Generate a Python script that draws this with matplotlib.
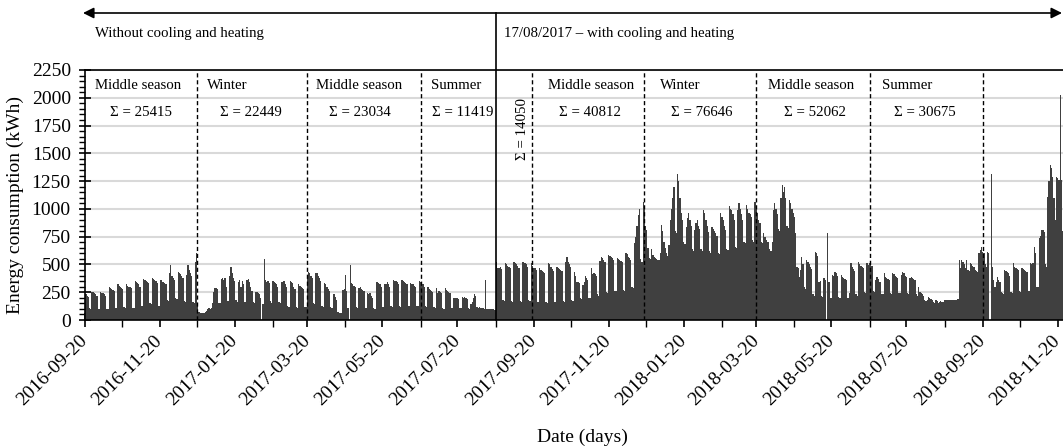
import numpy as np
import pandas as pd
import matplotlib
matplotlib.use('Agg')
import matplotlib.pyplot as plt
import matplotlib.dates as mdates
from matplotlib.ticker import MultipleLocator

plt.rcParams['font.family'] = ['Liberation Serif', 'DejaVu Serif']

# daily energy consumption (kWh), one row per week (Mon..Sun), first Monday 2016-09-19
first_monday = '2016-09-19'

autumn_2016 = [
    [240, 240, 230, 220, 210, 110, 100],
    [250, 250, 240, 230, 220, 100, 100],
    [250, 240, 240, 230, 220, 100, 100],
    [300, 290, 280, 270, 260, 110, 110],
    [320, 310, 300, 290, 280, 120, 110],
    [320, 310, 300, 300, 290, 110, 110],
    [350, 340, 330, 320, 300, 130, 130],
    [370, 360, 350, 340, 330, 150, 140],
    [375, 370, 360, 350, 330, 130, 130],
    [360, 345, 340, 330, 320, 180, 170],
    [420, 495, 400, 380, 360, 200, 190],
    [430, 420, 410, 400, 380, 170, 160],
    [405, 495, 450, 420, 400, 160, 150],
]
winter_2017 = [
    [520, 600, 130, 70, 60, 60, 60],
    [65, 70, 80, 100, 110, 100, 110],
    [150, 250, 290, 290, 280, 150, 150],
    [370, 380, 360, 380, 300, 170, 170],
    [400, 480, 420, 380, 350, 180, 160],
    [340, 360, 300, 350, 320, 160, 160],
    [360, 370, 340, 300, 260, 160, 150],
    [250, 250, 240, 230, 200, 0, 140],
    [550, 360, 340, 350, 330, 170, 150],
    [350, 340, 330, 320, 300, 160, 150],
    [345, 340, 350, 320, 300, 130, 120],
    [350, 340, 330, 300, 280, 120, 110],
    [320, 310, 300, 290, 280, 120, 120],
]
spring_2017 = [
    [380, 435, 420, 400, 380, 150, 140],
    [420, 426, 396, 380, 350, 130, 120],
    [336, 320, 300, 280, 260, 120, 110],
    [234, 230, 210, 180, 75, 60, 60],
    [60, 270, 280, 405, 260, 110, 0],
    [495, 330, 320, 310, 300, 120, 110],
    [290, 294, 280, 270, 260, 110, 110],
    [240, 230, 240, 220, 200, 110, 100],
    [345, 340, 330, 320, 300, 120, 120],
    [320, 324, 340, 320, 300, 130, 120],
    [360, 350, 355, 340, 320, 130, 120],
    [360, 350, 340, 330, 320, 130, 130],
    [330, 320, 320, 310, 300, 130, 130],
]
summer_2017 = [
    [350, 340, 330, 320, 300, 130, 120],
    [294, 280, 270, 260, 250, 120, 110],
    [285, 240, 260, 250, 240, 110, 100],
    [285, 270, 260, 250, 240, 110, 110],
    [200, 195, 200, 195, 190, 110, 110],
    [210, 200, 210, 200, 190, 110, 100],
    [140, 160, 200, 230, 220, 120, 110],
    [120, 110, 110, 105, 100, 360, 100],
    [95, 95, 95, 95, 95, 90, 90],
]
autumn_2017 = [
    [525, 465, 470, 480, 460, 180, 170],
    [516, 500, 490, 480, 470, 170, 160],
    [525, 510, 500, 490, 470, 170, 160],
    [525, 520, 510, 500, 480, 180, 170],
    [510, 490, 470, 465, 450, 160, 160],
    [465, 450, 440, 430, 420, 160, 150],
    [510, 500, 480, 460, 440, 160, 160],
    [480, 470, 460, 450, 440, 170, 160],
    [525, 564, 520, 500, 480, 180, 170],
    [435, 400, 345, 340, 330, 200, 190],
    [315, 340, 400, 380, 360, 200, 200],
    [465, 414, 420, 410, 400, 230, 220],
    [534, 570, 560, 540, 520, 250, 240],
    [585, 580, 570, 560, 540, 260, 260],
    [555, 550, 540, 530, 520, 270, 260],
    [600, 590, 570, 560, 540, 300, 290],
    [690, 750, 850, 945, 1000, 550, 520],
]
winter_2018 = [
    [1065, 1000, 850, 810, 645, 560, 550],
    [636, 585, 570, 560, 550, 540, 540],
    [600, 855, 800, 700, 650, 600, 580],
    [675, 900, 1000, 1095, 1200, 800, 780],
    [1311, 1250, 1095, 960, 900, 700, 680],
    [840, 915, 960, 900, 850, 640, 620],
    [810, 870, 900, 850, 820, 640, 620],
    [990, 960, 900, 850, 795, 620, 600],
    [840, 820, 800, 780, 760, 600, 590],
    [960, 930, 900, 850, 810, 640, 630],
    [1026, 1000, 990, 950, 900, 660, 650],
    [990, 1050, 1000, 950, 900, 700, 690],
    [1035, 1000, 960, 950, 930, 720, 700],
    [1065, 996, 960, 900, 870, 700, 690],
]
spring_2018 = [
    [780, 750, 720, 705, 700, 640, 620],
    [700, 990, 1050, 1000, 950, 820, 800],
    [1100, 1215, 1150, 1200, 1095, 850, 830],
    [1080, 1050, 1000, 960, 930, 780, 480],
    [465, 390, 450, 570, 500, 300, 280],
    [540, 520, 500, 480, 460, 230, 220],
    [615, 600, 580, 345, 350, 220, 210],
    [375, 360, 0, 780, 345, 200, 200],
    [405, 400, 435, 420, 400, 210, 200],
    [405, 390, 380, 370, 360, 200, 200],
    [240, 510, 480, 460, 440, 230, 220],
    [525, 500, 490, 480, 470, 250, 240],
]
summer_2018 = [
    [516, 495, 510, 500, 490, 260, 250],
    [360, 390, 370, 345, 340, 230, 230],
    [420, 390, 380, 370, 360, 240, 230],
    [420, 410, 400, 390, 380, 240, 240],
    [405, 435, 420, 400, 390, 240, 230],
    [375, 390, 380, 370, 360, 230, 220],
    [300, 255, 240, 230, 220, 180, 170],
    [180, 210, 200, 190, 180, 160, 150],
    [180, 170, 150, 160, 170, 160, 160],
    [180, 180, 180, 180, 180, 180, 180],
    [180, 180, 180, 180, 185, 540, 465],
    [540, 520, 500, 465, 540, 450, 440],
    [516, 500, 490, 480, 450, 440, 430],
    [600, 630, 660, 615, 600, 500, 480],
]
autumn_2018 = [
    [615, 600, 0, 1311, 480, 360, 300],
    [345, 390, 360, 340, 255, 240, 230],
    [450, 440, 430, 420, 400, 250, 240],
    [516, 480, 470, 460, 450, 260, 250],
    [465, 460, 450, 440, 430, 260, 260],
    [516, 500, 516, 660, 600, 300, 300],
    [735, 760, 810, 810, 790, 500, 480],
    [1110, 1250, 1395, 1365, 1290, 1095, 900],
    [1290, 1280, 1260, 2025, 1260, 800, 760],
]

season_names = ['Middle season', 'Winter', 'Middle season', 'Summer',
                'Middle season', 'Winter', 'Middle season', 'Summer']
season_totals = [25415, 22449, 23034, 11419, 40812, 76646, 52062, 30675]
transition_total = 14050
season_bounds = ['2016-12-20', '2017-03-20', '2017-06-20', '2017-09-19',
                 '2017-12-19', '2018-03-20', '2018-06-20', '2018-09-20']
hvac_start = '2017-08-20 12:00'

# text positions, days after 2016-09-20
name_x = [8.4, 99.4, 188.4, 281.3, 376.4, 467.7, 555.2, 648.2]
total_x = [45.8, 135.2, 223.8, 307.5, 410.8, 501.8, 593.7, 682.7]

weeks = autumn_2016 + winter_2017 + spring_2017 + summer_2017 + autumn_2017 \
    + winter_2018 + spring_2018 + summer_2018 + autumn_2018
kwh = np.array(weeks).ravel()
dates = pd.date_range(first_monday, periods=len(kwh), freq='D')
start = pd.Timestamp('2016-09-20')

fig = plt.figure(figsize=(10.63, 4.48), dpi=100)
ax = fig.add_axes([84.7 / 1063, 128 / 448, 978.3 / 1063, 250 / 448])

ax.bar(dates, kwh, width=1.0, color='#404040', linewidth=0, align='center')

ax.set_xlim(start, start + pd.Timedelta(days=795.3))
ax.set_ylim(0, 2250)
ax.set_yticks(range(0, 2251, 250))
ax.yaxis.set_minor_locator(MultipleLocator(50))
ax.yaxis.grid(True, color='#d9d9d9', linewidth=1.5)
ax.set_axisbelow(True)

ax.xaxis.set_major_locator(mdates.MonthLocator(bymonth=[1, 3, 5, 7, 9, 11], bymonthday=20))
ax.xaxis.set_minor_locator(mdates.MonthLocator(bymonthday=20))
ax.xaxis.set_major_formatter(mdates.DateFormatter('%Y-%m-%d'))

ax.tick_params(axis='y', which='major', direction='inout', length=8, width=1.2, labelsize=14, pad=6)
ax.tick_params(axis='y', which='minor', direction='out', length=4, width=1)
ax.tick_params(axis='x', which='major', direction='inout', length=10, width=1.2, labelsize=14, pad=8)
ax.tick_params(axis='x', which='minor', direction='out', length=5, width=1)
plt.setp(ax.get_xticklabels(), rotation=45, ha='right', va='center', rotation_mode='anchor')

for s in ['left', 'bottom', 'top']:
    ax.spines[s].set_linewidth(1.2)
ax.spines['right'].set_visible(False)

for d in season_bounds:
    ax.axvline(pd.Timestamp(d), color='black', linestyle=(0, (3, 2)), linewidth=1)
ax.axvline(pd.Timestamp(hvac_start), ymin=0, ymax=(320 - 13) / 250, color='black',
           linewidth=1.2, clip_on=False)

for name, nx, tot, tx in zip(season_names, name_x, season_totals, total_x):
    ax.text(start + pd.Timedelta(days=nx), 2110, name, ha='left', va='center', fontsize=10.7)
    ax.text(start + pd.Timedelta(days=tx), 1870, '\u03a3 = %d' % tot, ha='center',
            va='center', fontsize=10.7)
ax.text(start + pd.Timedelta(days=355.5), 1720, '\u03a3 = %d' % transition_total,
        rotation=90, ha='center', va='center', fontsize=10.7)

# top arrow and period labels
ax.annotate('', xy=(1062 / 1063, 1 - 13 / 448), xytext=(83 / 1063, 1 - 13 / 448),
            xycoords='figure fraction', textcoords='figure fraction',
            arrowprops=dict(arrowstyle='<|-|>', color='black', lw=1.2,
                            mutation_scale=16, shrinkA=0, shrinkB=0))
fig.text(95 / 1063, 1 - 33 / 448, 'Without cooling and heating', ha='left', va='center',
         fontsize=10.7)
fig.text(504 / 1063, 1 - 33 / 448, '17/08/2017 \u2013 with cooling and heating', ha='left',
         va='center', fontsize=10.7)

fig.text(15.5 / 1063, 1 - 205 / 448, 'Energy consumption (kWh)', rotation=90,
         ha='center', va='center', fontsize=14)
fig.text(582 / 1063, 1 - 437 / 448, 'Date (days)', ha='center', va='center', fontsize=14)

fig.savefig('out.png', dpi=100)
